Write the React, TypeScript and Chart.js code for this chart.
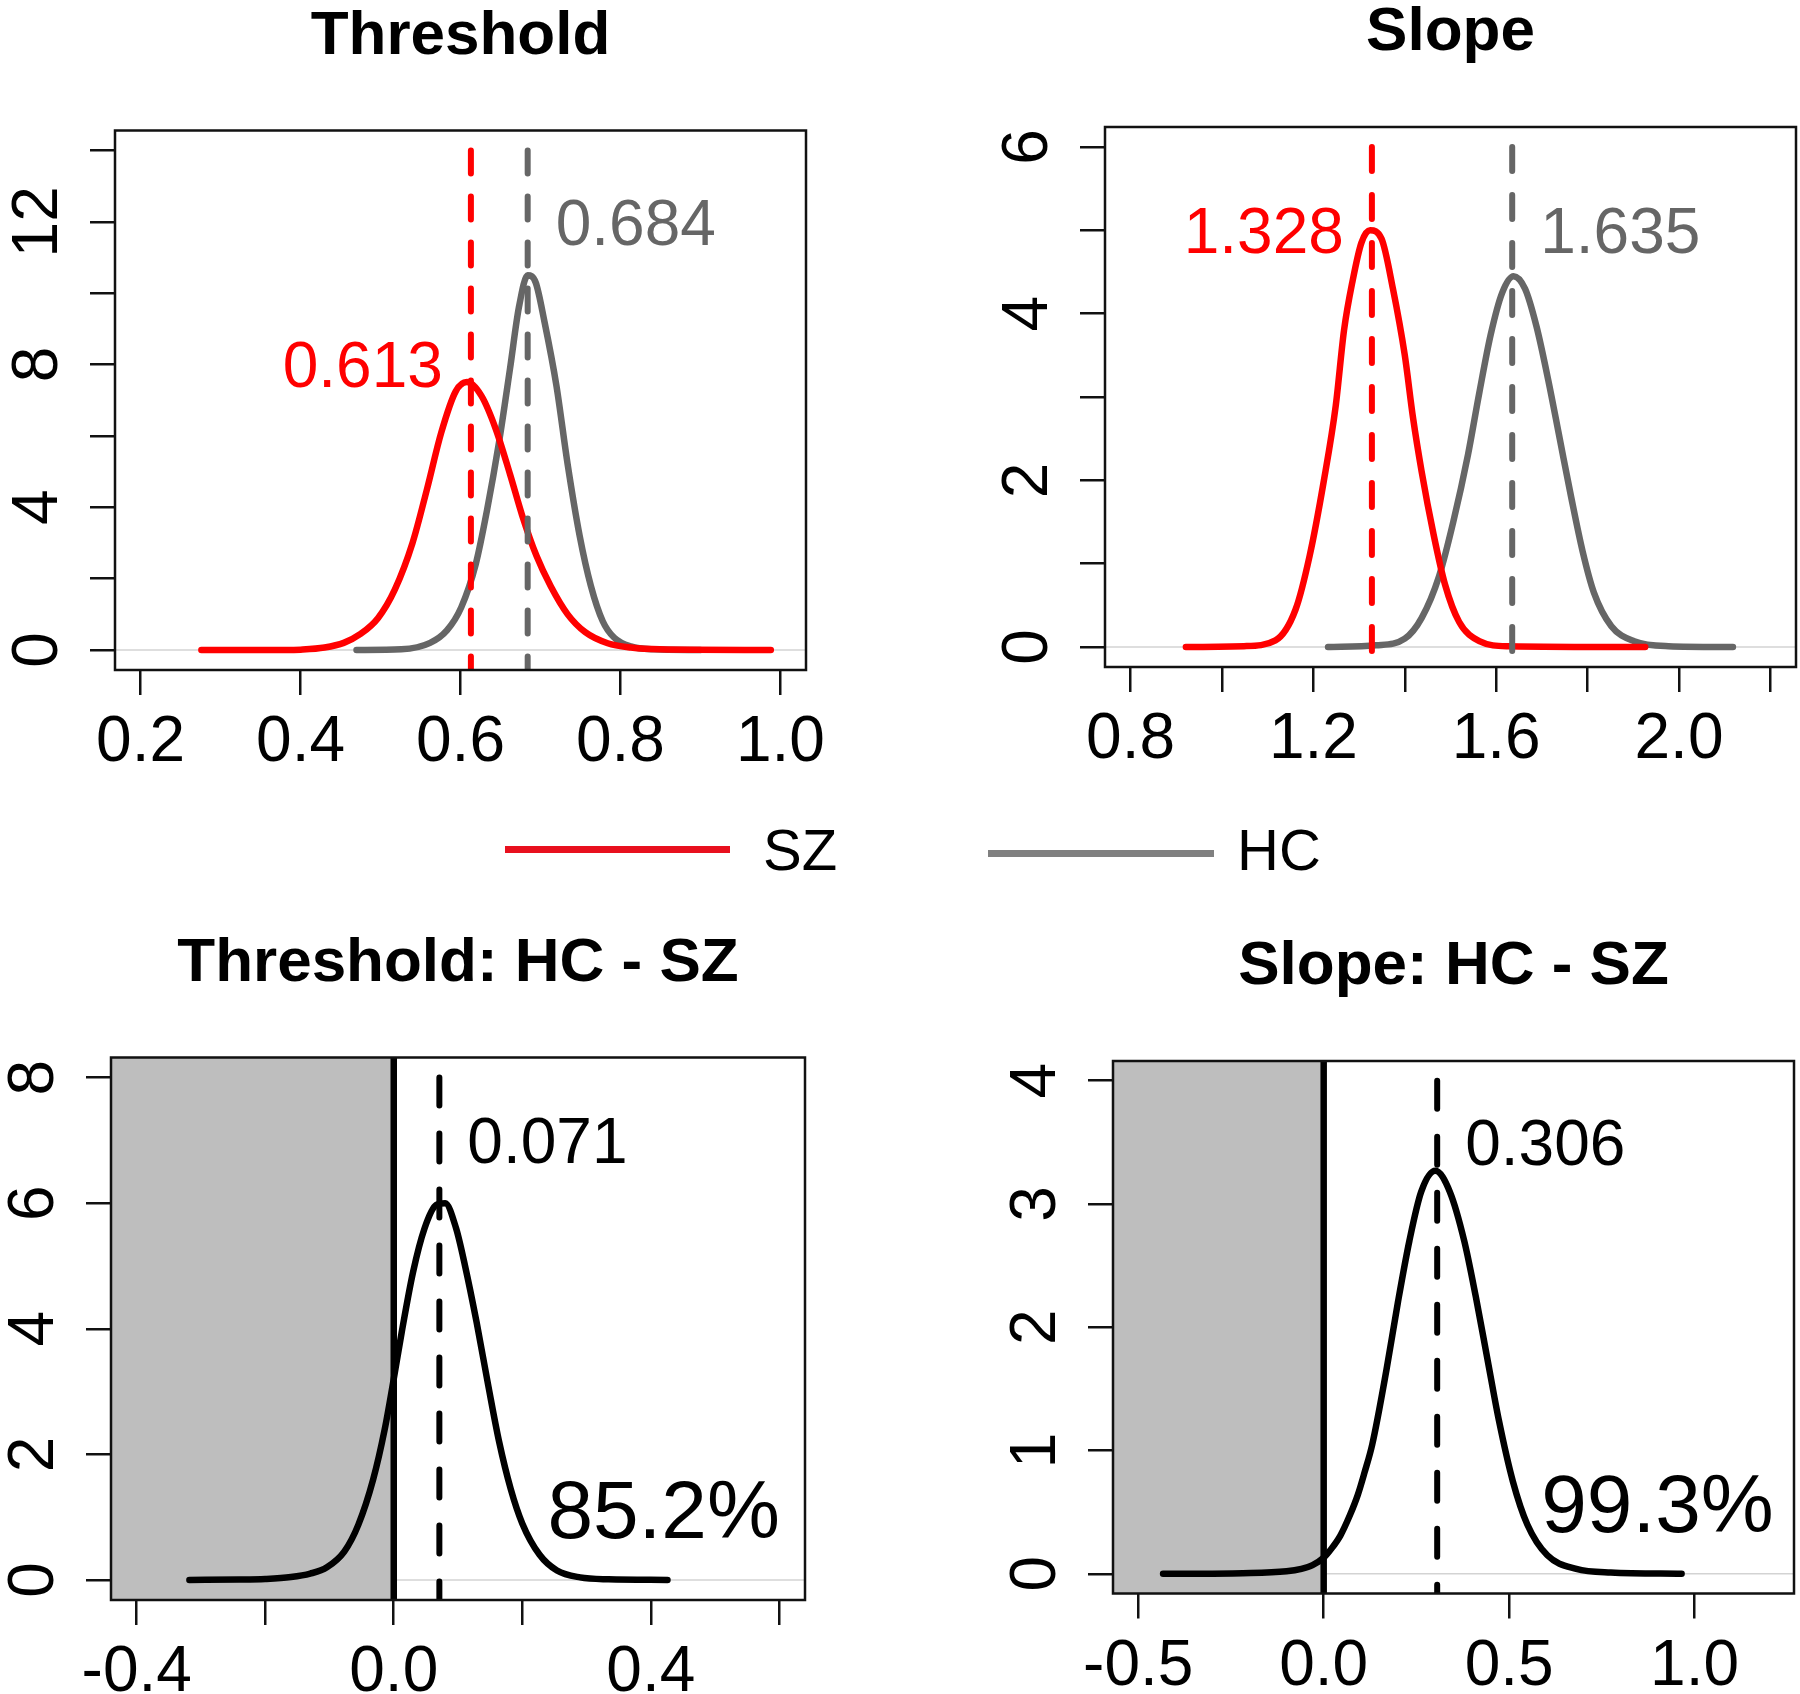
import React, { useEffect, useRef } from 'react';
import { Chart, registerables } from 'chart.js';

Chart.register(...registerables);

const W = 1800;
const H = 1694;
const TICK = 25;
const FONT = '"Liberation Sans", Arial, Helvetica, sans-serif';
const RED = '#ff0000';
const GREY = '#666666';
const BLACK = '#000000';
const CURVE_W = 6.5;
const DASH_W = 6;

// ---------- Panel 1: Threshold ----------
const thrSzX = [0.276, 0.382, 0.400, 0.430, 0.454, 0.475, 0.497, 0.518, 0.540, 0.558, 0.576, 0.594, 0.608, 0.626, 0.644, 0.662, 0.677, 0.695, 0.713, 0.734, 0.756, 0.784, 0.813, 0.849, 0.988];
const thrSzY = [0, 0, 0.01, 0.07, 0.2, 0.45, 0.9, 1.7, 3.0, 4.5, 6.1, 7.25, 7.51, 7.13, 6.2, 4.92, 3.78, 2.64, 1.78, 1.0, 0.5, 0.19, 0.07, 0.02, 0];
const thrHcX = [0.47, 0.526, 0.562, 0.583, 0.601, 0.619, 0.633, 0.648, 0.662, 0.673, 0.684, 0.694, 0.705, 0.720, 0.734, 0.749, 0.763, 0.778, 0.792, 0.813, 0.842, 0.900];
const thrHcY = [0, 0.02, 0.2, 0.55, 1.2, 2.4, 3.9, 5.8, 7.9, 9.6, 10.5, 10.3, 9.2, 7.4, 5.2, 3.2, 1.8, 0.8, 0.35, 0.1, 0.02, 0];
const thrSzMean = 0.613;
const thrHcMean = 0.684;
const thrXTicks = [0.2, 0.4, 0.6, 0.8, 1.0];
const thrXLabels = ['0.2', '0.4', '0.6', '0.8', '1.0'];
const thrYTicks = [0, 2, 4, 6, 8, 10, 12, 14];
const thrYLabels = ['0', '', '4', '', '8', '', '12', ''];

// ---------- Panel 2: Slope ----------
const slpSzX = [0.921, 1.048, 1.117, 1.161, 1.192, 1.223, 1.249, 1.267, 1.286, 1.305, 1.324, 1.349, 1.374, 1.400, 1.418, 1.437, 1.463, 1.488, 1.519, 1.563, 1.626, 1.926];
const slpSzY = [0, 0.01, 0.08, 0.45, 1.1, 2.0, 2.9, 3.8, 4.4, 4.85, 5.0, 4.9, 4.3, 3.5, 2.75, 2.1, 1.35, 0.75, 0.3, 0.07, 0.01, 0];
const slpHcX = [1.232, 1.337, 1.400, 1.437, 1.475, 1.506, 1.538, 1.563, 1.588, 1.613, 1.638, 1.663, 1.688, 1.714, 1.739, 1.764, 1.789, 1.814, 1.852, 1.902, 1.977, 2.118];
const slpHcY = [0, 0.02, 0.1, 0.35, 0.85, 1.5, 2.3, 3.05, 3.75, 4.25, 4.45, 4.3, 3.85, 3.2, 2.5, 1.8, 1.15, 0.65, 0.25, 0.07, 0.01, 0];
const slpSzMean = 1.328;
const slpHcMean = 1.635;
const slpXTicks = [0.8, 1.0, 1.2, 1.4, 1.6, 1.8, 2.0, 2.2];
const slpXLabels = ['0.8', '', '1.2', '', '1.6', '', '2.0', ''];
const slpYTicks = [0, 1, 2, 3, 4, 5, 6];
const slpYLabels = ['0', '', '2', '', '4', '', '6'];

// ---------- Panel 3: Threshold: HC - SZ ----------
const thrDiffX = [-0.318, -0.240, -0.200, -0.160, -0.130, -0.104, -0.077, -0.055, -0.032, -0.014, 0.0, 0.0125, 0.030, 0.048, 0.066, 0.080, 0.097, 0.111, 0.129, 0.147, 0.164, 0.182, 0.200, 0.227, 0.254, 0.290, 0.334, 0.426];
const thrDiffY = [0, 0.005, 0.015, 0.045, 0.1, 0.2, 0.45, 0.88, 1.6, 2.4, 3.2, 3.95, 4.9, 5.6, 5.97, 6.0, 5.6, 5.0, 4.1, 3.1, 2.2, 1.45, 0.9, 0.4, 0.15, 0.04, 0.01, 0];
const thrDiffMean = 0.071;
const thrDiffPct = '85.2%';
const thrDiffXTicks = [-0.4, -0.2, 0.0, 0.2, 0.4, 0.6];
const thrDiffXLabels = ['-0.4', '', '0.0', '', '0.4', ''];
const thrDiffYTicks = [0, 2, 4, 6, 8];
const thrDiffYLabels = ['0', '2', '4', '6', '8'];

// ---------- Panel 4: Slope: HC - SZ ----------
const slpDiffX = [-0.433, -0.218, -0.100, -0.060, -0.030, 0.0, 0.020, 0.045, 0.070, 0.092, 0.110, 0.131, 0.169, 0.200, 0.231, 0.263, 0.301, 0.340, 0.379, 0.410, 0.441, 0.472, 0.510, 0.549, 0.603, 0.681, 0.774, 0.965];
const slpDiffY = [0, 0.005, 0.02, 0.04, 0.07, 0.13, 0.2, 0.31, 0.47, 0.64, 0.82, 1.05, 1.65, 2.2, 2.7, 3.1, 3.27, 3.1, 2.7, 2.25, 1.75, 1.25, 0.75, 0.4, 0.15, 0.04, 0.01, 0];
const slpDiffMean = 0.306;
const slpDiffPct = '99.3%';
const slpDiffXTicks = [-0.5, 0.0, 0.5, 1.0];
const slpDiffXLabels = ['-0.5', '0.0', '0.5', '1.0'];
const slpDiffYTicks = [0, 1, 2, 3, 4];
const slpDiffYLabels = ['0', '1', '2', '3', '4'];

type Ann = { text: string; x: number; y: number; pos: 'left' | 'right' | 'center'; color: string; size: number };
type Box = { left: number; top: number; right: number; bottom: number };
type PanelDef = {
  title: string;
  box: Box;
  xlim: [number, number];
  ylim: [number, number];
  xTicks: number[];
  xLabels: string[];
  yTicks: number[];
  yLabels: string[];
  curves: { xs: number[]; ys: number[]; color: string }[];
  means: { x: number; color: string }[];
  dash: number[];
  shadeTo?: number;
  anns: Ann[];
};

const zip = (xs: number[], ys: number[]) => xs.map((x, i) => ({ x, y: ys[i] }));
const ext = (lim: [number, number]): [number, number] => {
  const d = (lim[1] - lim[0]) * 0.04;
  return [lim[0] - d, lim[1] + d];
};

const panels: PanelDef[] = [
  {
    title: 'Threshold',
    box: { left: 115, top: 130.5, right: 806, bottom: 670 },
    xlim: [0.2, 1.0],
    ylim: [0, 14],
    xTicks: thrXTicks,
    xLabels: thrXLabels,
    yTicks: thrYTicks,
    yLabels: thrYLabels,
    curves: [
      { xs: thrHcX, ys: thrHcY, color: GREY },
      { xs: thrSzX, ys: thrSzY, color: RED },
    ],
    means: [
      { x: thrHcMean, color: GREY },
      { x: thrSzMean, color: RED },
    ],
    dash: [23, 23],
    anns: [
      { text: thrSzMean.toFixed(3), x: thrSzMean, y: 8, pos: 'left', color: RED, size: 64 },
      { text: thrHcMean.toFixed(3), x: thrHcMean, y: 12, pos: 'right', color: GREY, size: 64 },
    ],
  },
  {
    title: 'Slope',
    box: { left: 1105, top: 127, right: 1796, bottom: 667 },
    xlim: [0.8, 2.2],
    ylim: [0, 6],
    xTicks: slpXTicks,
    xLabels: slpXLabels,
    yTicks: slpYTicks,
    yLabels: slpYLabels,
    curves: [
      { xs: slpHcX, ys: slpHcY, color: GREY },
      { xs: slpSzX, ys: slpSzY, color: RED },
    ],
    means: [
      { x: slpHcMean, color: GREY },
      { x: slpSzMean, color: RED },
    ],
    dash: [24, 24],
    anns: [
      { text: slpSzMean.toFixed(3), x: slpSzMean, y: 5, pos: 'left', color: RED, size: 64 },
      { text: slpHcMean.toFixed(3), x: slpHcMean, y: 5, pos: 'right', color: GREY, size: 64 },
    ],
  },
  {
    title: 'Threshold: HC - SZ',
    box: { left: 111, top: 1057.5, right: 805, bottom: 1600 },
    xlim: [-0.4, 0.6],
    ylim: [0, 8],
    xTicks: thrDiffXTicks,
    xLabels: thrDiffXLabels,
    yTicks: thrDiffYTicks,
    yLabels: thrDiffYLabels,
    curves: [{ xs: thrDiffX, ys: thrDiffY, color: BLACK }],
    means: [{ x: thrDiffMean, color: BLACK }],
    dash: [28, 28],
    shadeTo: 0,
    anns: [
      { text: thrDiffMean.toFixed(3), x: thrDiffMean, y: 7, pos: 'right', color: BLACK, size: 64 },
      { text: thrDiffPct, x: 0.42, y: 1.13, pos: 'center', color: BLACK, size: 82 },
    ],
  },
  {
    title: 'Slope: HC - SZ',
    box: { left: 1113, top: 1061, right: 1794, bottom: 1593.5 },
    xlim: [-0.5, 1.2],
    ylim: [0, 4],
    xTicks: slpDiffXTicks,
    xLabels: slpDiffXLabels,
    yTicks: slpDiffYTicks,
    yLabels: slpDiffYLabels,
    curves: [{ xs: slpDiffX, ys: slpDiffY, color: BLACK }],
    means: [{ x: slpDiffMean, color: BLACK }],
    dash: [28, 28],
    shadeTo: 0,
    anns: [
      { text: slpDiffMean.toFixed(3), x: slpDiffMean, y: 3.5, pos: 'right', color: BLACK, size: 64 },
      { text: slpDiffPct, x: 0.9, y: 0.58, pos: 'center', color: BLACK, size: 82 },
    ],
  },
];

function buildChart(canvas: HTMLCanvasElement, p: PanelDef): Chart {
  const [xMin, xMax] = ext(p.xlim);
  const [yMin, yMax] = ext(p.ylim);
  const datasets: any[] = [];
  datasets.push({
    data: [{ x: xMin, y: 0 }, { x: xMax, y: 0 }],
    borderColor: '#d3d3d3',
    borderWidth: 1.5,
    pointRadius: 0,
    tension: 0,
    order: 10,
  });
  if (p.shadeTo !== undefined) {
    datasets.push({
      data: [{ x: xMin, y: yMax }, { x: p.shadeTo, y: yMax }],
      borderWidth: 0,
      borderColor: 'rgba(0,0,0,0)',
      backgroundColor: '#bebebe',
      fill: 'start',
      pointRadius: 0,
      tension: 0,
      order: 9,
    });
    datasets.push({
      data: [{ x: p.shadeTo, y: yMax }, { x: p.shadeTo, y: yMin }],
      borderColor: BLACK,
      borderWidth: CURVE_W,
      pointRadius: 0,
      tension: 0,
      order: 3,
    });
  }
  p.curves.forEach((c, i) => {
    datasets.push({
      data: zip(c.xs, c.ys),
      borderColor: c.color,
      borderWidth: CURVE_W,
      pointRadius: 0,
      cubicInterpolationMode: 'monotone',
      borderCapStyle: 'round',
      borderJoinStyle: 'round',
      order: 6 - i,
    });
  });
  p.means.forEach((m, i) => {
    datasets.push({
      data: [{ x: m.x, y: p.ylim[1] }, { x: m.x, y: yMin }],
      borderColor: m.color,
      borderWidth: DASH_W,
      borderDash: p.dash,
      borderCapStyle: 'round',
      pointRadius: 0,
      tension: 0,
      order: 2 - i * 0.5,
    });
  });

  const deco = {
    id: 'deco',
    afterDraw(chart: any) {
      const ctx: CanvasRenderingContext2D = chart.ctx;
      const a = chart.chartArea;
      const xs = chart.scales.x;
      const ys = chart.scales.y;
      ctx.save();
      ctx.strokeStyle = '#111';
      ctx.lineWidth = 2.5;
      ctx.strokeRect(a.left, a.top, a.right - a.left, a.bottom - a.top);
      ctx.fillStyle = '#000';
      ctx.font = `64px ${FONT}`;
      ctx.textAlign = 'center';
      ctx.textBaseline = 'alphabetic';
      p.xTicks.forEach((v, i) => {
        const l = p.xLabels[i];
        if (l) ctx.fillText(l, xs.getPixelForValue(v), a.bottom + 91);
      });
      p.yTicks.forEach((v, i) => {
        const l = p.yLabels[i];
        if (!l) return;
        ctx.save();
        ctx.translate(a.left - 58, ys.getPixelForValue(v));
        ctx.rotate(-Math.PI / 2);
        ctx.fillText(l, 0, 0);
        ctx.restore();
      });
      ctx.font = `bold 62px ${FONT}`;
      ctx.fillText(p.title, (a.left + a.right) / 2, a.top - 77);
      p.anns.forEach((an) => {
        ctx.font = `${an.size}px ${FONT}`;
        ctx.fillStyle = an.color;
        const px = xs.getPixelForValue(an.x);
        const py = ys.getPixelForValue(an.y) + an.size * 0.358;
        if (an.pos === 'left') {
          ctx.textAlign = 'right';
          ctx.fillText(an.text, px - 28, py);
        } else if (an.pos === 'right') {
          ctx.textAlign = 'left';
          ctx.fillText(an.text, px + 28, py);
        } else {
          ctx.textAlign = 'center';
          ctx.fillText(an.text, px, py);
        }
      });
      ctx.restore();
    },
  };

  const axisCommon = {
    type: 'linear' as const,
    ticks: { display: false },
    border: { display: false },
    grid: {
      drawOnChartArea: false,
      drawTicks: true,
      tickLength: TICK,
      color: '#111',
      tickColor: '#111',
      lineWidth: 2.5,
    },
  };

  return new Chart(canvas, {
    type: 'line',
    data: { datasets },
    options: {
      animation: false,
      responsive: false,
      devicePixelRatio: 1,
      layout: {
        padding: {
          left: p.box.left - TICK,
          top: p.box.top,
          right: W - p.box.right,
          bottom: H - p.box.bottom - TICK,
        },
      },
      plugins: { legend: { display: false }, tooltip: { enabled: false }, title: { display: false } },
      scales: {
        x: {
          ...axisCommon,
          min: xMin,
          max: xMax,
          afterBuildTicks: (s: any) => {
            s.ticks = p.xTicks.map((v) => ({ value: v }));
          },
          afterFit: (s: any) => {
            s.height = TICK;
          },
        },
        y: {
          ...axisCommon,
          min: yMin,
          max: yMax,
          afterBuildTicks: (s: any) => {
            s.ticks = p.yTicks.map((v) => ({ value: v }));
          },
          afterFit: (s: any) => {
            s.width = TICK;
          },
        },
      },
    } as any,
    plugins: [deco],
  });
}

function PanelCanvas({ def }: { def: PanelDef }) {
  const ref = useRef<HTMLCanvasElement>(null);
  useEffect(() => {
    if (!ref.current) return;
    const chart = buildChart(ref.current, def);
    return () => chart.destroy();
  }, [def]);
  return (
    <canvas
      ref={ref}
      width={W}
      height={H}
      style={{ position: 'absolute', left: 0, top: 0, width: W, height: H }}
    />
  );
}

const legendItems = [
  { label: 'SZ', color: '#e8101e', lineLeft: 505, lineTop: 846, lineWidth: 225, textLeft: 763 },
  { label: 'HC', color: '#808080', lineLeft: 988, lineTop: 850, lineWidth: 226, textLeft: 1237 },
];

export default function App() {
  return (
    <div style={{ position: 'absolute', left: 0, top: 0, width: W, height: H, background: '#fff', overflow: 'hidden' }}>
      {panels.map((p, i) => (
        <PanelCanvas key={i} def={p} />
      ))}
      {legendItems.map((it) => (
        <React.Fragment key={it.label}>
          <div
            style={{
              position: 'absolute',
              left: it.lineLeft,
              top: it.lineTop,
              width: it.lineWidth,
              height: 7,
              background: it.color,
            }}
          />
          <div
            style={{
              position: 'absolute',
              left: it.textLeft,
              top: 821,
              font: `58px ${FONT}`,
              lineHeight: '58px',
              color: '#000',
              whiteSpace: 'nowrap',
            }}
          >
            {it.label}
          </div>
        </React.Fragment>
      ))}
    </div>
  );
}
